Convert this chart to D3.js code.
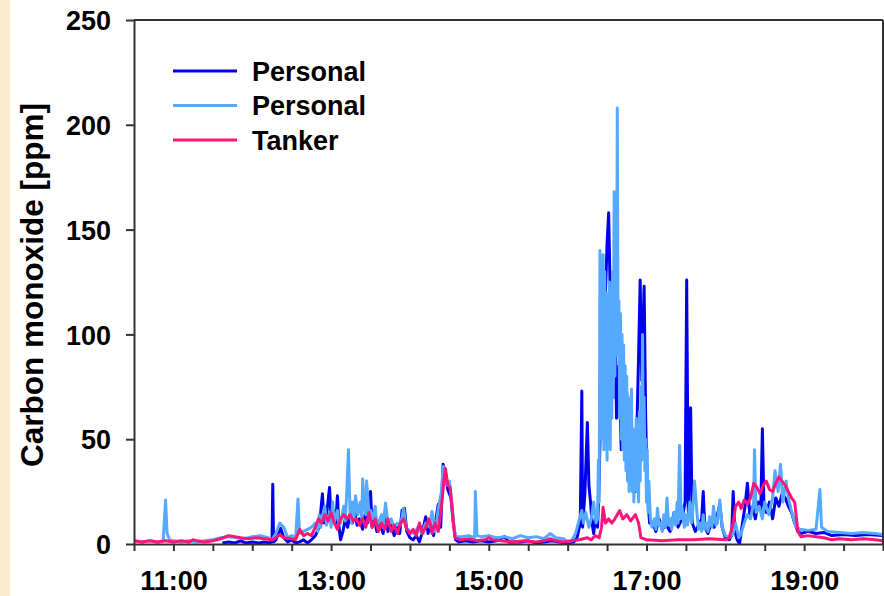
<!DOCTYPE html>
<html>
<head>
<meta charset="utf-8">
<script src="https://cdn.jsdelivr.net/npm/d3@7"></script>
<style>
  body { margin: 0; background: #fff; }
  svg { display: block; font-family: Arial, "Liberation Sans", sans-serif; font-weight: bold; }
</style>
</head>
<body>
<svg id="chart"></svg>
<script>
// readings as [clock time in decimal hours, CO ppm]
const personalDark = [
  [11.62, 0.5], [11.7, 1], [11.78, 0.5], [11.85, 1.5], [11.92, 0.5], [12.0, 1], [12.08, 0.5], [12.15, 1],
  [12.22, 0.5], [12.25, 1], [12.26, 28.5], [12.27, 1], [12.3, 2], [12.36, 7.5], [12.4, 3], [12.45, 1],
  [12.5, 2], [12.55, 0.5], [12.6, 1], [12.65, 2], [12.7, 0.5], [12.75, 2], [12.8, 4], [12.85, 8],
  [12.89, 24], [12.91, 10], [12.94, 13], [12.98, 27], [13.0, 12], [13.03, 16], [13.06, 10], [13.08, 23],
  [13.1, 8], [13.12, 2], [13.15, 6], [13.18, 12], [13.21, 8], [13.24, 14], [13.27, 10], [13.3, 15],
  [13.33, 9], [13.36, 12], [13.4, 7], [13.43, 14], [13.46, 10], [13.5, 25], [13.52, 8], [13.55, 12],
  [13.58, 6], [13.62, 10], [13.66, 5], [13.69, 14], [13.72, 6], [13.76, 9], [13.8, 4], [13.83, 8],
  [13.87, 5], [13.9, 16], [13.93, 17], [13.96, 6], [14.0, 3], [14.04, 2], [14.08, 4], [14.12, 1],
  [14.16, 6], [14.2, 13], [14.23, 5], [14.26, 10], [14.3, 4], [14.33, 12], [14.36, 19], [14.39, 8],
  [14.42, 38], [14.45, 34], [14.48, 26], [14.52, 22], [14.55, 10], [14.58, 2], [14.62, 1], [14.7, 1.5],
  [14.8, 1], [14.9, 1.5], [15.0, 1], [15.1, 1.5], [15.2, 3.5], [15.25, 1], [15.4, 1], [15.5, 1.5],
  [15.6, 0.5], [15.7, 1], [15.8, 1.5], [15.9, 1], [16.0, 0.5], [16.08, 1], [16.12, 3], [16.16, 10],
  [16.18, 73], [16.19, 8], [16.22, 25], [16.25, 58], [16.27, 28], [16.29, 20], [16.31, 10], [16.33, 5],
  [16.36, 15], [16.38, 8], [16.4, 30], [16.44, 105], [16.46, 50], [16.48, 120], [16.5, 143], [16.52, 158],
  [16.54, 120], [16.56, 126], [16.58, 70], [16.6, 116], [16.62, 60], [16.65, 85], [16.68, 45], [16.7, 93],
  [16.72, 50], [16.75, 72], [16.77, 56], [16.8, 30], [16.83, 40], [16.86, 25], [16.9, 90], [16.92, 126],
  [16.94, 78], [16.97, 123], [16.99, 60], [17.01, 25], [17.04, 10], [17.08, 10], [17.12, 6], [17.16, 12],
  [17.2, 7], [17.25, 9], [17.3, 6], [17.35, 15], [17.4, 8], [17.45, 12], [17.49, 20], [17.51, 126],
  [17.53, 15], [17.56, 65], [17.58, 10], [17.62, 6], [17.66, 9], [17.7, 12], [17.72, 25], [17.74, 8],
  [17.78, 5], [17.82, 10], [17.86, 8], [17.9, 14], [17.93, 19], [17.96, 8], [18.0, 3], [18.05, 2],
  [18.08, 4], [18.1, 25], [18.12, 6], [18.15, 2], [18.18, 0], [18.21, 8], [18.25, 18], [18.28, 29],
  [18.31, 14], [18.35, 18], [18.38, 12], [18.42, 20], [18.45, 16], [18.47, 55], [18.49, 18], [18.52, 15],
  [18.56, 20], [18.6, 12], [18.64, 22], [18.68, 18], [18.72, 24], [18.76, 22], [18.8, 18], [18.84, 15],
  [18.88, 10], [18.92, 6], [18.96, 5], [19.05, 6], [19.15, 5], [19.25, 5.5], [19.35, 4], [19.5, 4.5],
  [19.65, 4], [19.8, 4.5], [20.0, 4]
];

const personalLight = [
  [10.5, 1.5], [10.6, 1], [10.7, 1.5], [10.8, 1], [10.87, 1.5], [10.9, 21], [10.92, 5], [10.95, 2],
  [11.0, 1.5], [11.1, 1], [11.2, 1.5], [11.3, 1], [11.4, 1.5], [11.5, 2], [11.6, 3], [11.7, 3.5],
  [11.8, 3], [11.9, 2.5], [12.0, 3.5], [12.1, 4], [12.2, 3], [12.25, 2], [12.3, 5], [12.35, 10],
  [12.4, 8], [12.45, 3], [12.5, 4], [12.55, 3], [12.58, 21.5], [12.6, 5], [12.65, 6], [12.7, 7],
  [12.75, 8], [12.8, 10], [12.83, 6], [12.85, 14], [12.87, 8], [12.88, 12], [12.92, 18], [12.94, 9],
  [12.95, 10], [12.98, 15], [13.0, 8], [13.02, 20], [13.04, 10], [13.05, 12], [13.08, 16], [13.1, 9],
  [13.12, 10], [13.14, 14], [13.16, 18], [13.18, 11], [13.2, 26], [13.22, 45], [13.24, 15], [13.26, 10],
  [13.27, 20], [13.29, 12], [13.31, 23], [13.34, 14], [13.37, 20], [13.39, 12], [13.4, 31], [13.42, 18],
  [13.44, 14], [13.45, 30], [13.47, 20], [13.49, 11], [13.5, 16], [13.53, 12], [13.56, 18], [13.58, 9],
  [13.6, 10], [13.64, 14], [13.66, 8], [13.69, 19.5], [13.72, 10], [13.76, 12], [13.8, 8], [13.84, 10],
  [13.88, 9], [13.92, 17], [13.95, 8], [14.0, 6], [14.05, 5], [14.1, 8], [14.15, 5], [14.2, 10],
  [14.25, 8], [14.28, 15.5], [14.32, 6], [14.36, 17], [14.4, 25], [14.42, 37], [14.44, 36], [14.47, 28],
  [14.5, 30], [14.53, 20], [14.56, 8], [14.58, 3.5], [14.65, 3.5], [14.75, 4], [14.82, 3], [14.83, 25],
  [14.85, 4], [14.9, 3.5], [15.0, 4], [15.1, 3], [15.2, 3.5], [15.3, 2.5], [15.4, 4], [15.5, 3],
  [15.6, 3.5], [15.7, 2.5], [15.78, 5], [15.85, 3], [15.95, 2.5], [16.0, 1], [16.05, 1.5], [16.1, 5],
  [16.15, 12], [16.18, 16], [16.2, 10], [16.23, 15], [16.27, 8], [16.3, 12], [16.33, 20], [16.36, 10],
  [16.38, 12], [16.39, 40], [16.4, 20], [16.41, 140], [16.42, 60], [16.43, 135], [16.44, 50], [16.45, 138],
  [16.46, 45], [16.47, 130], [16.48, 55], [16.49, 120], [16.5, 40], [16.51, 110], [16.52, 50], [16.53, 125],
  [16.54, 45], [16.55, 100], [16.56, 60], [16.57, 130], [16.58, 70], [16.59, 168], [16.6, 80], [16.61, 150],
  [16.62, 90], [16.63, 208], [16.64, 95], [16.65, 116], [16.66, 60], [16.67, 110], [16.68, 50], [16.69, 100],
  [16.7, 45], [16.71, 95], [16.72, 40], [16.73, 85], [16.74, 35], [16.75, 80], [16.76, 30], [16.77, 70],
  [16.78, 25], [16.79, 65], [16.8, 30], [16.81, 74], [16.82, 25], [16.83, 55], [16.84, 20], [16.85, 50],
  [16.86, 30], [16.87, 60], [16.88, 25], [16.89, 45], [16.9, 20], [16.91, 63], [16.92, 30], [16.93, 75],
  [16.94, 40], [16.95, 100], [16.96, 45], [16.97, 70], [16.98, 35], [16.99, 50], [17.0, 20], [17.01, 45],
  [17.02, 15], [17.03, 30], [17.05, 12], [17.07, 8], [17.1, 12], [17.12, 7], [17.14, 17], [17.16, 9],
  [17.18, 10], [17.2, 6], [17.22, 14], [17.24, 8], [17.26, 22], [17.28, 9], [17.3, 12], [17.32, 7],
  [17.35, 15], [17.37, 9], [17.39, 20], [17.4, 10], [17.42, 47], [17.44, 12], [17.45, 18], [17.48, 8],
  [17.5, 14], [17.52, 9], [17.55, 20], [17.57, 10], [17.58, 12], [17.61, 30], [17.64, 15], [17.66, 7],
  [17.68, 10], [17.7, 6], [17.72, 14], [17.74, 7], [17.76, 10], [17.78, 6], [17.8, 13], [17.83, 8],
  [17.85, 18], [17.88, 9], [17.9, 10], [17.93, 21], [17.96, 8], [18.0, 4], [18.05, 3], [18.1, 5],
  [18.13, 10], [18.17, 3], [18.2, 5], [18.24, 10], [18.28, 14], [18.32, 12], [18.36, 20], [18.37, 45],
  [18.39, 15], [18.43, 18], [18.47, 12], [18.5, 20], [18.55, 14], [18.6, 22], [18.63, 35], [18.67, 25],
  [18.7, 38], [18.73, 20], [18.77, 30], [18.8, 22], [18.85, 14], [18.9, 8], [18.95, 7], [19.05, 6.5],
  [19.15, 7], [19.2, 26], [19.22, 8], [19.3, 6], [19.45, 5.5], [19.6, 5], [19.75, 5.5], [19.9, 5],
  [20.0, 4.5]
];

const tanker = [
  [10.5, 1.5], [10.6, 1], [10.7, 1.5], [10.8, 1], [10.9, 1.5], [11.0, 1], [11.1, 1.5], [11.2, 1],
  [11.25, 2], [11.3, 1.5], [11.4, 1], [11.5, 1.5], [11.6, 2.5], [11.7, 4], [11.78, 3.5], [11.85, 3],
  [11.95, 2.5], [12.05, 3], [12.15, 2.5], [12.25, 2], [12.3, 3], [12.35, 4.5], [12.4, 3], [12.5, 2.5],
  [12.55, 2], [12.6, 7], [12.65, 4], [12.7, 5], [12.75, 4], [12.8, 8], [12.84, 12], [12.88, 10],
  [12.92, 14], [12.96, 11], [13.0, 15], [13.04, 10], [13.08, 7], [13.12, 12], [13.16, 14], [13.2, 12],
  [13.24, 14], [13.28, 11], [13.32, 12], [13.36, 9], [13.4, 12], [13.44, 8], [13.48, 15], [13.52, 8],
  [13.56, 12], [13.6, 6], [13.64, 10], [13.68, 7], [13.72, 12], [13.76, 6], [13.8, 9], [13.84, 5],
  [13.88, 10], [13.92, 12], [13.96, 7], [14.0, 5], [14.04, 7], [14.08, 4], [14.12, 10], [14.16, 5],
  [14.2, 8], [14.24, 12], [14.28, 5], [14.32, 10], [14.36, 6], [14.4, 18], [14.43, 30], [14.45, 36],
  [14.48, 28], [14.51, 27], [14.54, 15], [14.57, 3], [14.65, 2], [14.75, 2.5], [14.85, 1.5], [14.95, 2],
  [15.0, 3], [15.05, 2], [15.15, 1.5], [15.3, 1], [15.45, 1.5], [15.6, 1], [15.7, 1.5], [15.78, 2.5],
  [15.85, 1.5], [15.95, 1], [16.05, 1.5], [16.15, 2], [16.25, 3], [16.3, 2], [16.35, 4], [16.4, 3],
  [16.43, 8], [16.45, 17.5], [16.48, 10], [16.52, 12], [16.56, 10], [16.6, 12], [16.66, 16], [16.7, 12],
  [16.75, 14], [16.8, 11], [16.86, 14], [16.9, 10], [16.93, 3], [17.0, 2], [17.2, 1.5], [17.4, 2],
  [17.6, 2], [17.8, 2.5], [18.0, 2], [18.05, 3], [18.1, 10], [18.13, 18], [18.17, 20], [18.2, 17],
  [18.24, 21], [18.28, 19], [18.32, 22], [18.36, 29], [18.4, 27], [18.44, 24], [18.48, 28], [18.52, 30],
  [18.56, 26], [18.6, 25], [18.64, 29], [18.68, 32], [18.72, 30], [18.76, 28], [18.8, 25], [18.84, 22],
  [18.88, 20], [18.92, 6], [18.96, 3.5], [19.05, 4], [19.15, 3.5], [19.25, 3], [19.35, 2], [19.45, 2.5],
  [19.6, 2], [19.75, 2.5], [19.9, 2], [20.0, 1.5]
];

const seriesNames = ["Personal", "Personal", "Tanker"];
const seriesColors = ["#0000ee", "#55aaff", "#ff1478"];
const yTicks = [0, 50, 100, 150, 200, 250];
const xLabelHours = [11, 13, 15, 17, 19];

const width = 884;
const height = 596;
const margin = { top: 20, right: 1, bottom: 52, left: 134 };

const svg = d3.select("#chart").attr("width", width).attr("height", height);

// beige strip on the left edge
svg.append("rect").attr("x", 0).attr("y", 0).attr("width", 10).attr("height", height).attr("fill", "#fce9cf");

const x = d3.scaleLinear().domain([10.5, 20]).range([margin.left, width - margin.right]);
const y = d3.scaleLinear().domain([0, 250]).range([height - margin.bottom, margin.top]);

svg.append("clipPath").attr("id", "plot-clip")
  .append("rect")
  .attr("x", margin.left).attr("y", margin.top)
  .attr("width", width - margin.right - margin.left)
  .attr("height", height - margin.bottom - margin.top);

const line = d3.line().x((d) => x(d[0])).y((d) => y(d[1]));

const lines = svg.append("g").attr("clip-path", "url(#plot-clip)");
[personalDark, personalLight, tanker].forEach((data, i) => {
  lines.append("path")
    .datum(data)
    .attr("fill", "none")
    .attr("stroke", seriesColors[i])
    .attr("stroke-width", 3)
    .attr("stroke-linejoin", "round")
    .attr("d", line);
});

// axes
const xAxis = d3.axisBottom(x)
  .tickValues(d3.range(10.5, 20.01, 0.5))
  .tickSize(7)
  .tickSizeOuter(0)
  .tickFormat((d) => (xLabelHours.includes(d) ? d + ":00" : ""));

const gx = svg.append("g")
  .attr("transform", `translate(0, ${height - margin.bottom})`)
  .call(xAxis);

const yAxis = d3.axisLeft(y).tickValues(yTicks).tickSize(8).tickSizeOuter(0);
const gy = svg.append("g").attr("transform", `translate(${margin.left}, 0)`).call(yAxis);

[gx, gy].forEach((g) => {
  g.selectAll("path, line").attr("stroke", "#333").attr("stroke-width", 2);
  g.selectAll("text").attr("fill", "#000").style("font-size", "27px").style("font-weight", "bold")
    .style("font-family", "Arial, 'Liberation Sans', sans-serif");
});
gx.selectAll("text").attr("y", 27).attr("dy", "0.71em");
gy.selectAll("text").attr("x", -23).attr("dy", "0.36em");

// frame: top and right edges
svg.append("line")
  .attr("x1", margin.left).attr("x2", width - margin.right)
  .attr("y1", y(250)).attr("y2", y(250))
  .attr("stroke", "#333").attr("stroke-width", 2);
svg.append("line")
  .attr("x1", width - margin.right).attr("x2", width - margin.right)
  .attr("y1", y(250)).attr("y2", y(0))
  .attr("stroke", "#333").attr("stroke-width", 2);

// y title
svg.append("text")
  .attr("transform", `translate(43, ${(margin.top + height - margin.bottom) / 2 + 3}) rotate(-90)`)
  .attr("text-anchor", "middle")
  .style("font-size", "31.5px")
  .text("Carbon monoxide [ppm]");

// legend
const legend = svg.append("g").attr("transform", "translate(173, 71)");
seriesNames.forEach((name, i) => {
  const row = legend.append("g").attr("transform", `translate(0, ${i * 34.5})`);
  row.append("line").attr("x1", 0).attr("x2", 64).attr("stroke", seriesColors[i]).attr("stroke-width", 3);
  row.append("text").attr("x", 79).attr("dy", "0.36em").style("font-size", "27px").text(name);
});
</script>
</body>
</html>
